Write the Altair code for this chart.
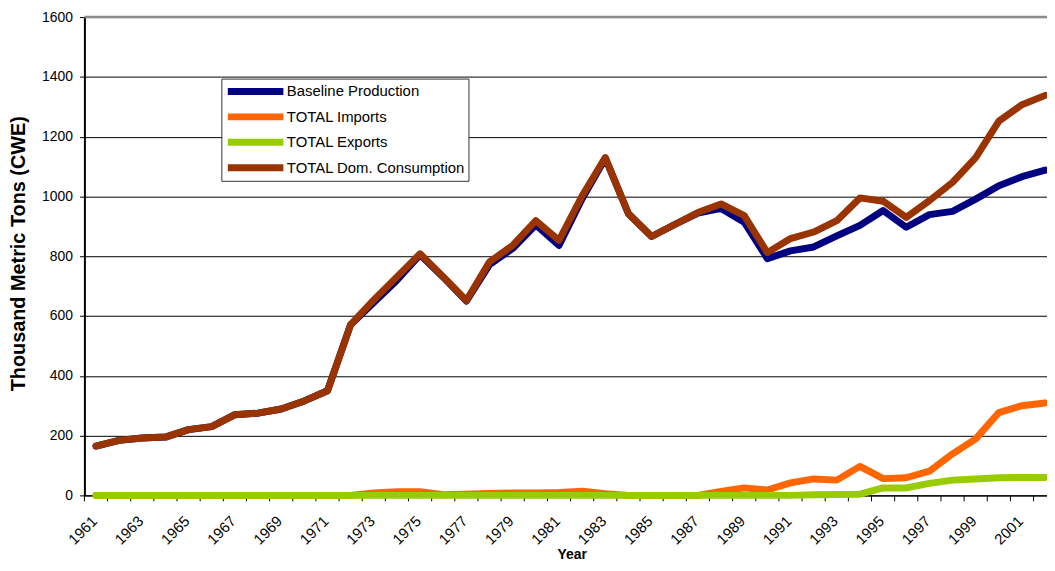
import altair as alt
import pandas as pd

years = list(range(1961, 2003))

production = [165, 184, 192, 195, 220, 230, 270, 275, 289, 316, 350,
              571, 645, 720, 805, 730, 650, 772, 826, 905, 836, 992,
              1128, 942, 866, 906, 944, 960, 914, 792, 818, 831, 868,
              903, 953, 897, 939, 950, 991, 1036, 1066, 1088]

imports = [0, 0, 0, 0, 0, 0, 0, 0, 0, 0, 0,
           0, 8, 12, 12, 2, 4, 6, 8, 8, 10, 14,
           6, 0, 0, 0, 0, 13, 25, 18, 42, 55, 51,
           97, 56, 59, 81, 139, 189, 277, 300, 309]

exports = [0, 0, 0, 0, 0, 0, 0, 0, 0, 0, 0,
           0, 0, 0, 0, 0, 0, 0, 0, 0, 0, 0,
           0, 0, 0, 0, 0, 0, 0, 0, 0, 2, 3,
           4, 25, 25, 40, 51, 55, 59, 60, 60]

consumption = [165, 184, 192, 195, 220, 230, 270, 275, 289, 316, 350,
               571, 654, 731, 808, 731, 652, 781, 836, 919, 853, 1002,
               1130, 942, 866, 906, 946, 975, 936, 812, 859, 881, 919,
               995, 984, 930, 986, 1047, 1130, 1252, 1307, 1338]

series_names = ["Baseline Production", "TOTAL Imports", "TOTAL Exports",
                "TOTAL Dom. Consumption"]
series_colors = ["#000080", "#FF6600", "#99CC00", "#993300"]
series_values = [production, imports, exports, consumption]

x_labels = [y for y in years if y % 2 == 1]
y_ticks = [0, 200, 400, 600, 800, 1000, 1200, 1400, 1600]

FONT = "Liberation Sans, Arial, sans-serif"

rows = []
for name, vals in zip(series_names, series_values):
    for yr, v in zip(years, vals):
        rows.append({"Year": yr, "Value": v, "Series": name})
df = pd.DataFrame(rows)

bounds_df = pd.DataFrame({"b": [y - 0.5 for y in years]})

x_scale = alt.Scale(domain=[1960.5, 2002.08], nice=False, zero=False)
y_scale = alt.Scale(domain=[0, 1600], nice=False)
color_scale = alt.Scale(domain=series_names, range=series_colors)

x_axis = alt.Axis(values=x_labels, format="d", labelAngle=315, labelAlign="right",
                  labelBaseline="middle", labelPadding=23, labelOffset=-2,
                  ticks=False, grid=False, domainColor="#000000", domainWidth=1.5,
                  labelFont=FONT, labelFontSize=15, labelColor="#000000",
                  title="Year", titleFont=FONT, titleFontSize=14, titleFontWeight="bold",
                  titleColor="#000000", titleX=491, titleY=64, titleBaseline="alphabetic",
                  titleAnchor="start", titleAlign="center")

y_axis = alt.Axis(values=y_ticks, format="d", tickSize=5, tickColor="#000000",
                  domainColor="#000000", domainWidth=2, grid=True, gridColor="#000000",
                  gridWidth=1, labelFont=FONT, labelFontSize=14, labelColor="#000000",
                  labelPadding=7, title="Thousand Metric Tons (CWE)", titleFont=FONT,
                  titleFontSize=20, titleFontWeight="bold", titleColor="#000000",
                  titleX=-60, titleY=238, titleAngle=270, titleBaseline="alphabetic",
                  titleAlign="center")

base = alt.Chart(df)

grid_layer = base.mark_rule(opacity=0).encode(
    y=alt.Y("Value:Q", scale=y_scale, axis=y_axis),
    x=alt.X("Year:Q", scale=x_scale, axis=x_axis),
)

top_border = alt.Chart(pd.DataFrame({"v": [y_ticks[-1]]})).mark_rule(
    color="#8c8c8c", strokeWidth=2.5).encode(y=alt.Y("v:Q", scale=y_scale))

tick_layer = alt.Chart(bounds_df).mark_rule(color="#000000", strokeWidth=1).encode(
    x=alt.X("b:Q", scale=x_scale),
    y=alt.value(482), y2=alt.value(488),
)

legend = alt.Legend(title=None, orient="none", legendX=138, legendY=62,
                    strokeColor="#333333", fillColor="#ffffff", padding=3,
                    symbolType="stroke", symbolStrokeWidth=7, symbolSize=3136,
                    labelFont=FONT, labelFontSize=15, labelColor="#000000",
                    labelOffset=0, clipHeight=20, rowPadding=5.6, labelLimit=400)

lines = []
for name in series_names:
    lines.append(
        alt.Chart(df[df["Series"] == name]).mark_line(
            strokeWidth=7, strokeJoin="round", strokeCap="round").encode(
            x=alt.X("Year:Q", scale=x_scale),
            y=alt.Y("Value:Q", scale=y_scale),
            color=alt.Color("Series:N", scale=color_scale, legend=legend),
        )
    )

chart = alt.layer(grid_layer, top_border, tick_layer, *lines).properties(
    width=970, height=482,
    autosize=alt.AutoSizeParams(type="none"),
    padding={"left": 77, "top": 7, "right": 0, "bottom": 66},
    background="#ffffff",
).configure_view(stroke=None)

chart.save("out.html", embed_options={"renderer": "svg", "actions": False})
